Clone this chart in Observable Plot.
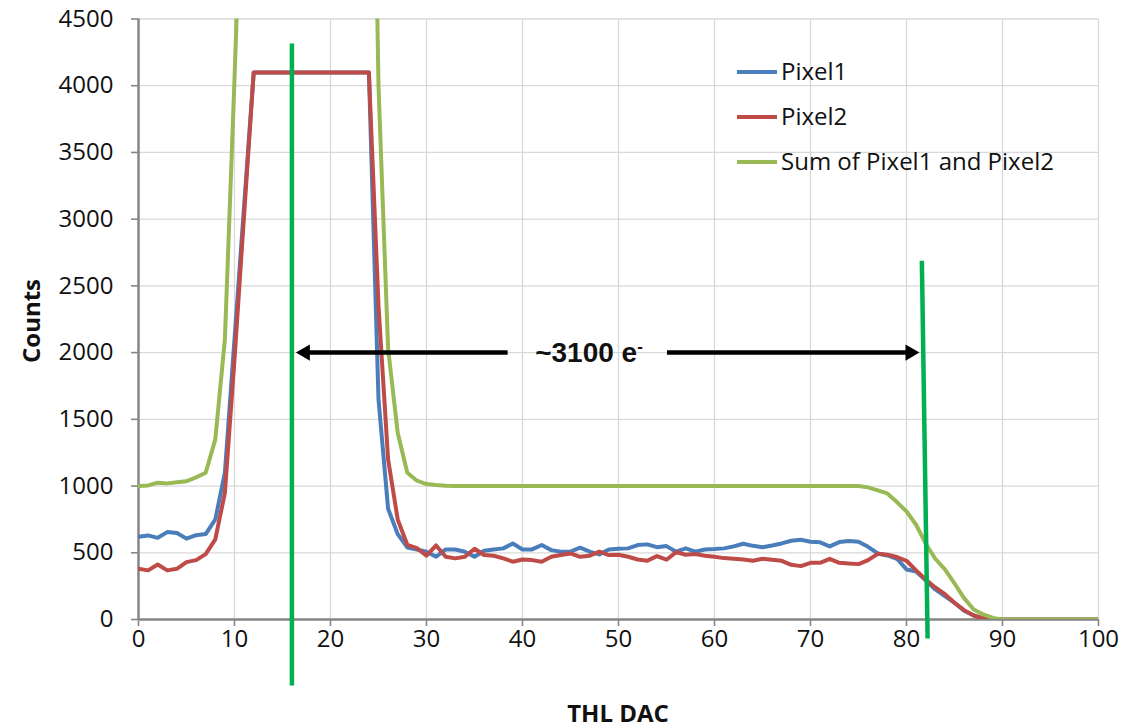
<!DOCTYPE html>
<html>
<head>
<meta charset="utf-8">
<script src="https://cdn.jsdelivr.net/npm/d3@7"></script>
<script src="https://cdn.jsdelivr.net/npm/@observablehq/plot@0.6"></script>
<style>
  html, body { margin: 0; padding: 0; background: #fff; }
  #wrap { position: relative; width: 1125px; height: 727px; font-family: 'Open Sans', sans-serif; color: #111; }
  #wrap svg { position: absolute; left: 0; top: 0; overflow: visible; }
  #wrap svg g[aria-label$="axis tick"] path,
  #wrap svg g[aria-label$="axis"] g.tick line { stroke: #868686; stroke-width: 1.6; }
  .legend-row { position: absolute; height: 0; white-space: nowrap; }
  .legend-row .sw { position: absolute; left: 0; top: -2px; width: 40px; height: 4px; }
  .legend-row .lbl { position: absolute; left: 44px; top: -18px; font-size: 24px; line-height: 34px; color: #111; }
  .title-x { position: absolute; left: 138px; width: 960px; top: 698px; text-align: center; font-weight: 700; font-size: 24px; line-height: 30px; }
  .title-y { position: absolute; left: 30px; top: 321px; width: 0; height: 0; }
  .title-y span { position: absolute; left: 0; top: 0; transform: translate(-50%, -50%) rotate(-90deg); font-weight: 700; font-size: 24px; white-space: nowrap; display: block; }
</style>
</head>
<body>
<div id="wrap"></div>
<script>
// ---- data ----
const thlDac = [0,1,2,3,4,5,6,7,8,9,10,11,12,13,14,15,16,17,18,19,20,21,22,23,24,25,26,27,28,29,30,31,32,33,34,35,36,37,38,39,40,41,42,43,44,45,46,47,48,49,50,51,52,53,54,55,56,57,58,59,60,61,62,63,64,65,66,67,68,69,70,71,72,73,74,75,76,77,78,79,80,81,82,83,84,85,86,87,88,89,90,91,92,93,94,95,96,97,98,99,100];
const pixel1 = [620,630,612,655,648,606,632,640,750,1100,2100,3100,4100,4100,4100,4100,4100,4100,4100,4100,4100,4100,4100,4100,4100,1650,830,640,540,525,508,470,525,525,508,470,515,525,533,570,525,525,558,520,508,508,538,508,488,525,530,533,558,563,542,550,508,533,508,525,528,533,548,568,552,542,555,570,590,598,583,578,548,580,588,582,545,495,480,455,375,360,293,225,175,125,65,30,8,2,0,0,0,0,0,0,0,0,0,0,0];
const pixel2 = [380,368,412,368,380,430,445,490,600,950,1950,3030,4100,4100,4100,4100,4100,4100,4100,4100,4100,4100,4100,4100,4100,2350,1200,750,560,535,478,555,470,458,470,530,483,478,458,433,450,445,433,470,483,495,470,478,508,483,485,470,450,440,475,448,505,485,490,478,470,460,455,450,440,455,448,440,410,400,425,425,455,425,420,415,445,492,485,468,440,368,300,240,190,125,70,30,8,2,0,0,0,0,0,0,0,0,0,0,0];
const sumPixels = [1000,1005,1025,1020,1028,1036,1065,1100,1350,2100,4050,6130,8200,8200,8200,8200,8200,8200,8200,8200,8200,8200,8200,8200,8200,4000,2030,1400,1100,1040,1015,1008,1003,1000,1000,1000,1000,1000,1000,1000,1000,1000,1000,1000,1000,1000,1000,1000,1000,1000,1000,1000,1000,1000,1000,1000,1000,1000,1000,1000,1000,1000,1000,1000,1000,1000,1000,1000,1000,1000,1000,1000,1000,1000,1000,1000,990,968,945,880,810,710,568,455,375,270,160,75,38,12,0,0,0,0,0,0,0,0,0,0,0];

const seriesNames = ["Pixel1", "Pixel2", "Sum of Pixel1 and Pixel2"];
const seriesColors = ["#4a7ebb", "#be4b48", "#98b954"];
const xTicks = [0,10,20,30,40,50,60,70,80,90,100];
const yTicks = [0,500,1000,1500,2000,2500,3000,3500,4000,4500];

// annotation values (data space)
const markerLines = [
  {x1: 15.98, y1: 4317, x2: 15.98, y2: -494},
  {x1: 81.6, y1: 2689, x2: 82.2, y2: -142}
];
const arrowLeft = [{x1: 16.4, x2: 38.5, y: 2000}];
const arrowRight = [{x1: 55.1, x2: 81.35, y: 2000}];
const arrowTips = [{x: 16.4, y: 2000, side: "left"}, {x: 81.35, y: 2000, side: "right"}];
const arrowLabel = [{x: 46.3, y: 2000, text: "~3100 e", sup: "-"}];

// ---- table ----
const rows = thlDac.map((x, i) => ({x, p1: pixel1[i], p2: pixel2[i], s: sumPixels[i]}));

const chart = Plot.plot({
  width: 1125,
  height: 727,
  marginLeft: 138,
  marginRight: 27,
  marginTop: 18.5,
  marginBottom: 108,
  style: {fontFamily: "'Open Sans', sans-serif", fontSize: "24px", color: "#111", background: "#fff", overflow: "visible"},
  x: {domain: [0, 100], ticks: xTicks, tickSize: 7, tickPadding: 3, label: null, tickFormat: d => String(d)},
  y: {domain: [0, 4500], ticks: yTicks, tickSize: 7, tickPadding: 18, label: null, tickFormat: d => String(d)},
  marks: [
    Plot.ruleX(xTicks, {stroke: "#d9d9d9", strokeWidth: 1.3}),
    Plot.ruleY(yTicks, {stroke: "#d9d9d9", strokeWidth: 1.3}),
    Plot.ruleX([0], {stroke: "#868686", strokeWidth: 2.5}),
    Plot.ruleY([0], {stroke: "#868686", strokeWidth: 2.5}),
    Plot.lineY(rows, {x: "x", y: "p1", stroke: seriesColors[0], strokeWidth: 4, clip: true}),
    Plot.lineY(rows, {x: "x", y: "p2", stroke: seriesColors[1], strokeWidth: 4, clip: true}),
    Plot.lineY(rows, {x: "x", y: "s", stroke: seriesColors[2], strokeWidth: 4, clip: true}),
    Plot.link(markerLines, {x1: "x1", y1: "y1", x2: "x2", y2: "y2", stroke: "#00b050", strokeWidth: 4.5}),
    Plot.ruleY(arrowLeft, {x1: "x1", x2: "x2", y: "y", stroke: "#000", strokeWidth: 4.5, insetLeft: 9}),
    Plot.ruleY(arrowRight, {x1: "x1", x2: "x2", y: "y", stroke: "#000", strokeWidth: 4.5, insetRight: 9}),
    Plot.dot(arrowTips.filter(d => d.side === "left"), {x: "x", y: "y", symbol: "triangle", r: 6, rotate: -90, fill: "#000", stroke: null, dx: 9.3}),
    Plot.dot(arrowTips.filter(d => d.side === "right"), {x: "x", y: "y", symbol: "triangle", r: 6, rotate: 90, fill: "#000", stroke: null, dx: -9.3}),
    Plot.text(arrowLabel, {x: "x", y: "y", text: "text", fontSize: 28, fontWeight: "bold", fontFamily: "'Liberation Sans', Arial, sans-serif", fill: "#111", textAnchor: "middle"})
  ]
});

const wrap = document.getElementById("wrap");
wrap.appendChild(chart);

// superscript minus on the annotation
d3.select(chart).selectAll("text").each(function() {
  if (this.textContent === arrowLabel[0].text) {
    d3.select(this).append("tspan")
      .attr("dy", "-0.55em")
      .attr("font-size", "0.6em")
      .text(arrowLabel[0].sup);
    d3.select(this).attr("dx", "6");
  }
});

// legend (HTML overlay)
const legendTops = [72, 117, 162];
seriesNames.forEach((name, i) => {
  const row = document.createElement("div");
  row.className = "legend-row";
  row.style.left = "737px";
  row.style.top = legendTops[i] + "px";
  const sw = document.createElement("div");
  sw.className = "sw";
  sw.style.background = seriesColors[i];
  const lbl = document.createElement("div");
  lbl.className = "lbl";
  lbl.textContent = name;
  row.appendChild(sw);
  row.appendChild(lbl);
  wrap.appendChild(row);
});

const tx = document.createElement("div");
tx.className = "title-x";
tx.textContent = "THL DAC";
wrap.appendChild(tx);
const ty = document.createElement("div");
ty.className = "title-y";
ty.innerHTML = "<span>Counts</span>";
wrap.appendChild(ty);
</script>
</body>
</html>
